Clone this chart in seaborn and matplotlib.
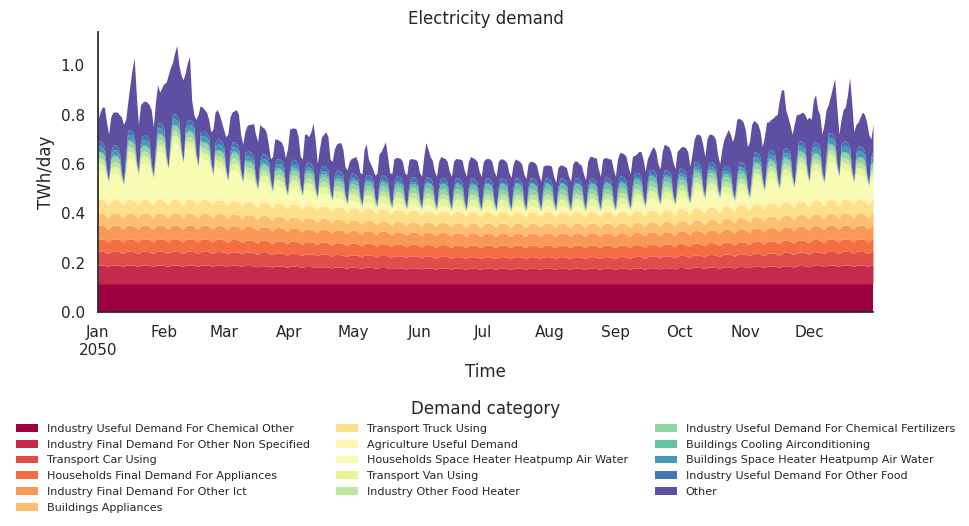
import numpy as np
import pandas as pd
import matplotlib
matplotlib.use("Agg")
import matplotlib.pyplot as plt
import seaborn as sns

# ---------------- data ----------------
categories = [
    "Industry Useful Demand For Chemical Other",
    "Industry Final Demand For Other Non Specified",
    "Transport Car Using",
    "Households Final Demand For Appliances",
    "Industry Final Demand For Other Ict",
    "Buildings Appliances",
    "Transport Truck Using",
    "Agriculture Useful Demand",
    "Households Space Heater Heatpump Air Water",
    "Transport Van Using",
    "Industry Other Food Heater",
    "Industry Useful Demand For Chemical Fertilizers",
    "Buildings Cooling Airconditioning",
    "Buildings Space Heater Heatpump Air Water",
    "Industry Useful Demand For Other Food",
    "Other",
]

# daily total demand (top of the stack), TWh/day, one row per week
total_demand = [
    0.78, 0.81, 0.83, 0.83, 0.77, 0.72, 0.79,
    0.81, 0.81, 0.81, 0.80, 0.79, 0.76, 0.78,
    0.85, 0.92, 0.98, 1.03, 0.88, 0.76, 0.84,
    0.85, 0.855, 0.85, 0.84, 0.82, 0.75, 0.85,
    0.92, 0.89, 0.91, 0.925, 0.93, 0.96, 0.99,
    1.01, 1.05, 1.08, 1.00, 0.96, 0.94, 0.97,
    1.01, 1.035, 0.86, 0.80, 0.78, 0.80, 0.835,
    0.83, 0.82, 0.81, 0.78, 0.73, 0.74, 0.81,
    0.82, 0.80, 0.77, 0.74, 0.71, 0.72, 0.79,
    0.81, 0.815, 0.82, 0.80, 0.72, 0.68, 0.73,
    0.755, 0.76, 0.76, 0.765, 0.72, 0.69, 0.76,
    0.75, 0.745, 0.73, 0.68, 0.62, 0.63, 0.70,
    0.70, 0.695, 0.69, 0.67, 0.625, 0.66, 0.74,
    0.745, 0.745, 0.743, 0.71, 0.63, 0.62, 0.72,
    0.72, 0.71, 0.73, 0.765, 0.70, 0.60, 0.66,
    0.71, 0.72, 0.73, 0.71, 0.62, 0.61, 0.66,
    0.68, 0.685, 0.686, 0.66, 0.59, 0.575, 0.61,
    0.622, 0.625, 0.63, 0.61, 0.565, 0.56, 0.66,
    0.68, 0.62, 0.60, 0.58, 0.555, 0.56, 0.64,
    0.65, 0.67, 0.69, 0.63, 0.565, 0.56, 0.62,
    0.626, 0.625, 0.622, 0.61, 0.565, 0.555, 0.615,
    0.622, 0.62, 0.618, 0.61, 0.565, 0.55, 0.63,
    0.686, 0.66, 0.63, 0.615, 0.57, 0.55, 0.61,
    0.63, 0.625, 0.622, 0.61, 0.57, 0.55, 0.61,
    0.622, 0.62, 0.62, 0.615, 0.575, 0.55, 0.61,
    0.63, 0.625, 0.62, 0.61, 0.57, 0.55, 0.61,
    0.62, 0.622, 0.62, 0.61, 0.57, 0.55, 0.61,
    0.62, 0.62, 0.615, 0.605, 0.565, 0.545, 0.60,
    0.62, 0.615, 0.61, 0.60, 0.56, 0.54, 0.60,
    0.61, 0.61, 0.605, 0.595, 0.555, 0.53, 0.59,
    0.595, 0.595, 0.595, 0.59, 0.55, 0.525, 0.585,
    0.595, 0.595, 0.59, 0.585, 0.55, 0.53, 0.60,
    0.613, 0.61, 0.60, 0.595, 0.56, 0.535, 0.61,
    0.63, 0.63, 0.625, 0.625, 0.58, 0.55, 0.62,
    0.625, 0.625, 0.62, 0.62, 0.58, 0.55, 0.62,
    0.645, 0.645, 0.64, 0.63, 0.59, 0.56, 0.63,
    0.635, 0.64, 0.65, 0.65, 0.62, 0.57, 0.62,
    0.64, 0.66, 0.67, 0.65, 0.60, 0.58, 0.65,
    0.68, 0.675, 0.67, 0.65, 0.61, 0.58, 0.65,
    0.66, 0.67, 0.67, 0.665, 0.65, 0.59, 0.64,
    0.70, 0.72, 0.72, 0.715, 0.68, 0.63, 0.70,
    0.72, 0.72, 0.715, 0.70, 0.64, 0.60, 0.66,
    0.70, 0.72, 0.74, 0.72, 0.69, 0.72, 0.78,
    0.785, 0.78, 0.77, 0.74, 0.67, 0.69, 0.76,
    0.776, 0.77, 0.76, 0.73, 0.67, 0.71, 0.77,
    0.77, 0.78, 0.785, 0.795, 0.80, 0.86, 0.90,
    0.90, 0.82, 0.79, 0.76, 0.72, 0.76, 0.80,
    0.80, 0.805, 0.81, 0.80, 0.78, 0.79, 0.78,
    0.86, 0.88, 0.82, 0.80, 0.72, 0.76, 0.82,
    0.84, 0.875, 0.91, 0.946, 0.83, 0.72, 0.78,
    0.82, 0.83, 0.88, 0.95, 0.85, 0.73, 0.76,
    0.77, 0.79, 0.81, 0.80, 0.77, 0.72, 0.70,
    0.76,
]

# weekly weekday levels (53 weeks), TWh/day
other_non_spec = [
    0.077, 0.077, 0.077, 0.077, 0.077, 0.077, 0.077, 0.077, 0.076, 0.076,
    0.075, 0.074, 0.073, 0.072, 0.071, 0.070, 0.069, 0.068, 0.068, 0.067,
    0.066, 0.066, 0.065, 0.065, 0.064, 0.064, 0.064, 0.064, 0.064, 0.064,
    0.064, 0.064, 0.064, 0.064, 0.064, 0.064, 0.065, 0.066, 0.066, 0.067,
    0.068, 0.069, 0.070, 0.071, 0.072, 0.073, 0.074, 0.075, 0.076, 0.077,
    0.077, 0.077, 0.077,
]
transport_car = [
    0.0560, 0.0560, 0.0560, 0.0560, 0.0560, 0.0560, 0.0560, 0.0560, 0.0556, 0.0551,
    0.0544, 0.0538, 0.0531, 0.0524, 0.0518, 0.0511, 0.0506, 0.0500, 0.0494, 0.0489,
    0.0484, 0.0481, 0.0477, 0.0475, 0.0473, 0.0470, 0.0470, 0.0470, 0.0470, 0.0470,
    0.0470, 0.0470, 0.0470, 0.0470, 0.0470, 0.0473, 0.0476, 0.0481, 0.0486, 0.0493,
    0.0499, 0.0506, 0.0513, 0.0520, 0.0528, 0.0535, 0.0542, 0.0548, 0.0554, 0.0557,
    0.0560, 0.0560, 0.0560,
]
hh_appliances = [
    0.0500, 0.0500, 0.0500, 0.0500, 0.0500, 0.0500, 0.0500, 0.0500, 0.0499, 0.0497,
    0.0495, 0.0493, 0.0490, 0.0488, 0.0486, 0.0484, 0.0482, 0.0480, 0.0478, 0.0476,
    0.0475, 0.0474, 0.0472, 0.0472, 0.0471, 0.0470, 0.0470, 0.0470, 0.0470, 0.0470,
    0.0470, 0.0470, 0.0470, 0.0470, 0.0470, 0.0471, 0.0472, 0.0474, 0.0475, 0.0478,
    0.0480, 0.0482, 0.0484, 0.0487, 0.0489, 0.0492, 0.0494, 0.0496, 0.0498, 0.0499,
    0.0500, 0.0500, 0.0500,
]
ind_ict = [
    0.0560, 0.0560, 0.0560, 0.0560, 0.0560, 0.0560, 0.0560, 0.0560, 0.0557, 0.0553,
    0.0547, 0.0543, 0.0538, 0.0532, 0.0527, 0.0522, 0.0518, 0.0513, 0.0509, 0.0505,
    0.0501, 0.0498, 0.0496, 0.0494, 0.0492, 0.0490, 0.0490, 0.0490, 0.0490, 0.0490,
    0.0490, 0.0490, 0.0490, 0.0490, 0.0490, 0.0492, 0.0495, 0.0498, 0.0503, 0.0508,
    0.0512, 0.0518, 0.0524, 0.0529, 0.0535, 0.0540, 0.0546, 0.0551, 0.0555, 0.0558,
    0.0560, 0.0560, 0.0560,
]
bld_appliances = [
    0.0490, 0.0490, 0.0490, 0.0490, 0.0490, 0.0490, 0.0490, 0.0490, 0.0486, 0.0481,
    0.0474, 0.0468, 0.0461, 0.0454, 0.0448, 0.0441, 0.0436, 0.0430, 0.0424, 0.0419,
    0.0414, 0.0411, 0.0407, 0.0405, 0.0403, 0.0400, 0.0400, 0.0400, 0.0400, 0.0400,
    0.0400, 0.0400, 0.0400, 0.0400, 0.0400, 0.0403, 0.0406, 0.0411, 0.0416, 0.0423,
    0.0429, 0.0436, 0.0443, 0.0450, 0.0458, 0.0465, 0.0472, 0.0478, 0.0484, 0.0487,
    0.0490, 0.0490, 0.0490,
]
transport_truck = [
    0.0550, 0.0550, 0.0550, 0.0550, 0.0550, 0.0550, 0.0550, 0.0550, 0.0546, 0.0541,
    0.0534, 0.0528, 0.0521, 0.0514, 0.0508, 0.0501, 0.0496, 0.0490, 0.0484, 0.0479,
    0.0474, 0.0471, 0.0467, 0.0465, 0.0463, 0.0460, 0.0460, 0.0460, 0.0460, 0.0460,
    0.0460, 0.0460, 0.0460, 0.0460, 0.0460, 0.0463, 0.0466, 0.0471, 0.0476, 0.0483,
    0.0489, 0.0496, 0.0503, 0.0510, 0.0518, 0.0525, 0.0532, 0.0538, 0.0544, 0.0547,
    0.0550, 0.0550, 0.0550,
]
hh_heater = [
    0.100, 0.086, 0.147, 0.127, 0.174, 0.210, 0.187, 0.140, 0.110, 0.104,
    0.070, 0.063, 0.047, 0.050, 0.042, 0.032, 0.016, 0.008, 0.005, 0.005,
    0.004, 0.004, 0.004, 0.003, 0.003, 0.003, 0.003, 0.003, 0.003, 0.003,
    0.003, 0.003, 0.004, 0.005, 0.006, 0.009, 0.022, 0.031, 0.027, 0.030,
    0.054, 0.050, 0.030, 0.040, 0.076, 0.082, 0.086, 0.110, 0.100, 0.134,
    0.100, 0.080, 0.060,
]

# monthly weekday levels (Jan..Dec), TWh/day
chem_other      = [0.113] * 12
agriculture     = [0.020] * 12
transport_van   = [0.028] * 12
food_heater     = [0.020] * 12
fertilizers     = [0.020] * 12
bld_cooling     = [0.006, 0.006, 0.008, 0.012, 0.016, 0.020, 0.022, 0.022, 0.019, 0.013, 0.008, 0.006]
bld_heater      = [0.022, 0.022, 0.018, 0.012, 0.008, 0.005, 0.004, 0.004, 0.007, 0.013, 0.018, 0.022]
other_food      = [0.020] * 12

# day-of-week profiles (relative to the weekday level)
week_flat = [1.0, 1.0, 1.0, 1.0, 1.0, 1.0, 1.0]
week_low  = [1.0, 1.0, 0.995, 0.985, 0.95, 0.93, 0.98]
week_heat = [1.0, 1.0, 1.0, 0.97, 0.82, 0.72, 0.93]
week_flex = [1.0, 1.0, 0.98, 0.88, 0.35, 0.10, 0.75]

# ---------------- build table ----------------
dates = pd.date_range("2050-01-01", "2050-12-31", freq="D")
n = len(dates)
mon = dates.month.values - 1
dow = np.arange(n) % 7
wk = np.arange(n) // 7

layers = [
    (chem_other, "m", week_flat), (other_non_spec, "w", week_low),
    (transport_car, "w", week_low), (hh_appliances, "w", week_low),
    (ind_ict, "w", week_low), (bld_appliances, "w", week_low),
    (transport_truck, "w", week_low), (agriculture, "m", week_low),
    (hh_heater, "w", week_heat), (transport_van, "m", week_flex),
    (food_heater, "m", week_flex), (fertilizers, "m", week_flex),
    (bld_cooling, "m", week_flex), (bld_heater, "m", week_flex),
    (other_food, "m", week_flex),
]
cols = {}
for name, (lev, kind, prof) in zip(categories[:-1], layers):
    idx = wk if kind == "w" else mon
    cols[name] = np.array(lev)[idx] * np.array(prof)[dow]
df = pd.DataFrame(cols, index=dates)
df["Other"] = np.clip(np.array(total_demand) - df.sum(axis=1).values, 0.0, None)
df.index.name = "Time"

# ---------------- plot ----------------
sns.set_theme(style="white")
fig, ax = plt.subplots(figsize=(9.7, 5.26), dpi=100)
fig.subplots_adjust(left=0.101, right=0.9, top=0.939, bottom=0.407)

df.plot.area(ax=ax, colormap="Spectral", linewidth=0)
sns.despine(ax=ax)

ax.set_ylim(0, 1.134)
ax.set_yticks([0.0, 0.2, 0.4, 0.6, 0.8, 1.0])
ax.set_title("Electricity demand", fontsize=12)
ax.set_ylabel("TWh/day", fontsize=12)
ax.set_xlabel("Time", fontsize=12)
ax.tick_params(axis="both", labelsize=11)

ax.legend(loc="upper center", bbox_to_anchor=(0.5, -0.279), ncol=3, frameon=False,
          fontsize=8, title="Demand category", title_fontsize=12,
          columnspacing=2.35, labelspacing=0.52)

fig.savefig("out.png", dpi=100)
